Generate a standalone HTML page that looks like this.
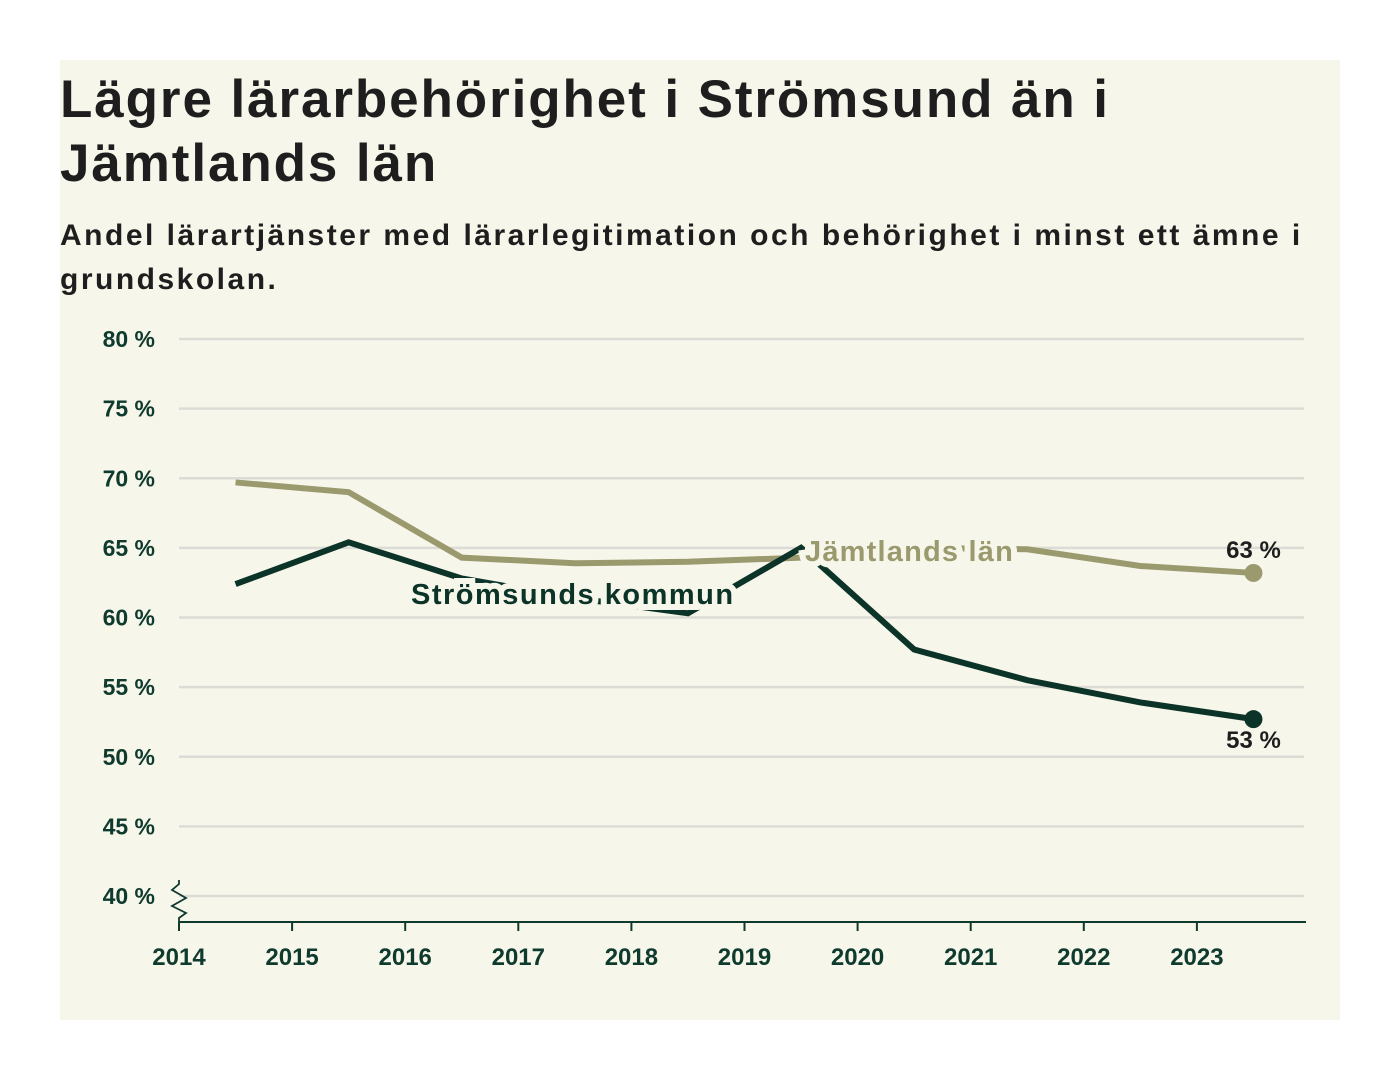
<!DOCTYPE html>
<html><head><meta charset="utf-8"><style>
body{margin:0;width:1400px;height:1080px;background:#fff;font-family:"Liberation Sans",sans-serif;}
#card{position:absolute;left:60px;top:60px;width:1280px;height:960px;background:#f7f6ea;}
h1{position:absolute;left:0;top:8px;margin:0;font-size:53px;line-height:64px;font-weight:bold;color:#1e1e1e;letter-spacing:1.9px;width:1180px}
h2{margin:0;font-size:30px;line-height:44px;font-weight:bold;color:#1e1e1e;width:1275px;letter-spacing:2.5px}
svg{position:absolute;left:0;top:0}
</style></head><body>
<div id="card">
<h1>Lägre lärarbehörighet i Strömsund än i Jämtlands län</h1>
</div>
<h2 style="position:absolute;left:60px;top:214px">Andel lärartjänster med lärarlegitimation och behörighet i minst ett ämne i grundskolan.</h2>
<svg id="chart" width="1400" height="1080"></svg>
<script>
const years=[2014,2015,2016,2017,2018,2019,2020,2021,2022,2023];
const yTicks=[40,45,50,55,60,65,70,75,80];
const jamtland=[69.7,69.0,64.3,63.9,64.0,64.3,65.0,64.9,63.7,63.2];
const stromsund=[62.4,65.4,62.8,61.4,60.3,65.0,57.7,55.5,53.9,52.7];
const svg=document.getElementById('chart');
const NS='http://www.w3.org/2000/svg';
const x=v=>179+(v-2014)*113.1;
const y=v=>896-(v-40)*13.925;
function mk(t,a){const e=document.createElementNS(NS,t);for(const k in a)e.setAttribute(k,a[k]);svg.appendChild(e);return e;}
yTicks.forEach(t=>{
 const l=mk('line',{x1:179,x2:1304,y1:y(t),y2:y(t),stroke:'#dcdcd6','stroke-width':2.5});
 
 
 const tx=mk('text',{x:155,y:y(t)+8,'text-anchor':'end','font-size':23,'font-weight':'bold',fill:'#0f3a2e'});
 tx.textContent=t+' %';
 
 
});
const ax=mk('line',{x1:179,x2:1306,y1:922,y2:922,stroke:'#0f3a2e','stroke-width':2});


const br=mk('polyline',{points:'179,880 179,884 172,890 186,898 172,906 186,913 179,918 179,922',fill:'none',stroke:'#0f3a2e','stroke-width':1.8});


years.forEach(yr=>{
 const tk=mk('line',{x1:x(yr),x2:x(yr),y1:922,y2:931,stroke:'#0f3a2e','stroke-width':2});
 
 
 const tx=mk('text',{x:x(yr),y:965,'text-anchor':'middle','font-size':24,'font-weight':'bold',fill:'#0f3a2e'});
 tx.textContent=yr;
 
 
});
function series(vals,col,name){
 const p=mk('polyline',{points:vals.map((v,i)=>x(years[i]+0.5)+','+y(v)).join(' '),fill:'none',stroke:col,'stroke-width':6,'stroke-linejoin':'miter'});
 
 
 const n=vals.length-1;
 const c=mk('circle',{cx:x(years[n]+0.5),cy:y(vals[n]),r:9,fill:col});
 
 
}
series(jamtland,'#9b9a6e','jamtland');
series(stromsund,'#0b3328','stromsund');
function label(t,xx,yy,col,name,anchor,fs,ls,sw){
 const e=mk('text',{x:xx,y:yy,'font-size':fs,'font-weight':'bold',fill:col,stroke:'#f7f6ea','stroke-width':sw,'paint-order':'stroke','text-anchor':anchor||'start','letter-spacing':ls||0});
 e.textContent=t;
 
 
}
label('Jämtlands län',805,561,'#9b9a6e','jamtland-label','start',29,1.2,12);
label('Strömsunds kommun',411,604,'#0b3328','stromsund-label','start',29,1.5,12);
const n=jamtland.length-1;
label(Math.round(jamtland[n])+' %',x(years[n]+0.5),y(jamtland[n])-15,'#1e1e1e','jamtland-end-value','middle',24,0,0);
label(Math.round(stromsund[n])+' %',x(years[n]+0.5),y(stromsund[n])+29,'#1e1e1e','stromsund-end-value','middle',24,0,0);
</script>
</body></html>
